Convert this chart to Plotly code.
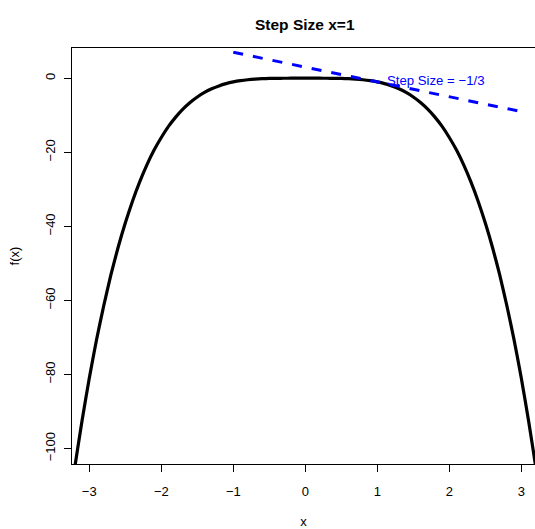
import plotly.graph_objects as go

# curve values (x, f(x))
curve_x = [-3.3, -3.2, -3.1, -3.0, -2.9, -2.8, -2.7, -2.6, -2.5, -2.4, -2.3, -2.2, -2.1, -2.0,
           -1.9, -1.8, -1.7, -1.6, -1.5, -1.4, -1.3, -1.2, -1.1, -1.0, -0.9, -0.8, -0.7, -0.6,
           -0.5, -0.4, -0.3, -0.2, -0.1, 0.0, 0.1, 0.2, 0.3, 0.4, 0.5, 0.6, 0.7, 0.8, 0.9, 1.0,
           1.1, 1.2, 1.3, 1.4, 1.5, 1.6, 1.7, 1.8, 1.9, 2.0, 2.1, 2.2, 2.3, 2.4, 2.5, 2.6, 2.7,
           2.8, 2.9, 3.0, 3.1, 3.2, 3.3]
curve_y = [-118.6, -104.9, -92.4, -81.0, -70.7, -61.5, -53.1, -45.7, -39.1, -33.2, -28.0, -23.4, -19.4, -16.0,
           -13.0, -10.5, -8.35, -6.55, -5.06, -3.84, -2.86, -2.07, -1.46, -1.0, -0.66, -0.41, -0.24, -0.13,
           -0.06, -0.03, -0.01, 0.0, 0.0, 0.0, 0.0, 0.0, -0.01, -0.03, -0.06, -0.13, -0.24, -0.41, -0.66, -1.0,
           -1.46, -2.07, -2.86, -3.84, -5.06, -6.55, -8.35, -10.5, -13.0, -16.0, -19.4, -23.4, -28.0, -33.2, -39.1, -45.7, -53.1,
           -61.5, -70.7, -81.0, -92.4, -104.9, -118.6]

# tangent (step) line end points
tan_x = [-1, 3]
tan_y = [7, -9]

x_ticks = [-3, -2, -1, 0, 1, 2, 3]
y_ticks = [-100, -80, -60, -40, -20, 0]

label_text = "Step Size = \u22121/3"
label_pos = (1.81, -0.7)
title_text = "<b>Step Size x=1</b>"

font = "Liberation Sans, Arial, Helvetica, sans-serif"

fig = go.Figure()
fig.add_trace(go.Scatter(x=curve_x, y=curve_y, mode="lines", line=dict(color="black", width=3.2, shape="spline", smoothing=0.6),
                         showlegend=False, hoverinfo="skip"))
fig.add_trace(go.Scatter(x=tan_x, y=tan_y, mode="lines", line=dict(color="#0000FF", width=3, dash="10px,10px"),
                         showlegend=False, hoverinfo="skip"))

fig.add_annotation(x=label_pos[0], y=label_pos[1], xref="x", yref="y", text=label_text, showarrow=False,
                   font=dict(family=font, size=13.2, color="#0000FF"))
fig.add_annotation(x=0, y=1, xref="x", yref="paper", yshift=34, text=title_text, showarrow=False,
                   font=dict(family=font, size=15.5, color="black"))

fig.update_layout(
    width=535, height=529,
    margin=dict(l=72, r=0, t=48, b=63),
    paper_bgcolor="white", plot_bgcolor="white",
    font=dict(family=font, size=13, color="black"),
    xaxis=dict(range=[-3.24, 3.19], tickvals=x_ticks, ticktext=["\u2212" + str(-v) if v < 0 else str(v) for v in x_ticks],
               showgrid=False, zeroline=False, showline=True, linecolor="black", linewidth=1, mirror=True,
               ticks="outside", ticklen=7, tickcolor="black", tickwidth=1, ticklabelstandoff=8,
               title=dict(text="x", standoff=21, font=dict(size=13)), tickfont=dict(size=13)),
    yaxis=dict(range=[-104.16, 8.16], tickvals=y_ticks, ticktext=["\u2212" + str(-v) if v < 0 else str(v) for v in y_ticks],
               showgrid=False, zeroline=False, showline=True, linecolor="black", linewidth=1,
               ticks="outside", ticklen=7, tickcolor="black", tickwidth=1, tickangle=-90, ticklabelstandoff=4,
               title=dict(text="f(x)", standoff=20, font=dict(size=13)), tickfont=dict(size=13)),
)

fig.write_html("out.html")
